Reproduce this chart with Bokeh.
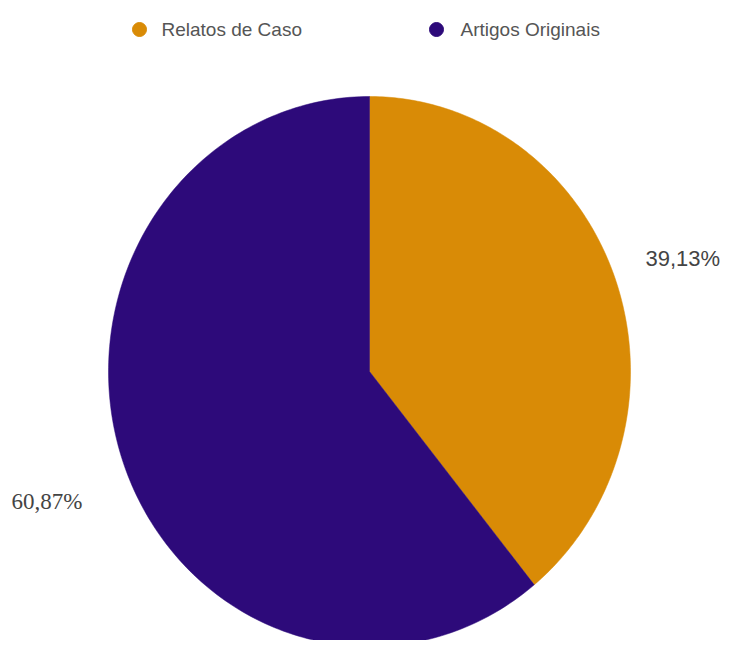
import numpy as np
from bokeh.plotting import figure
from bokeh.models import Range1d, ColumnDataSource
from bokeh.core.properties import value
from bokeh.embed import file_html
from bokeh.resources import INLINE

# ---- data ----
categories = ["Relatos de Caso", "Artigos Originais"]
shares = [39.13, 60.87]
labels = ["39,13%", "60,87%"]
colors = ["#D98B06", "#2D0A7A"]

W, H = 724, 640
p = figure(width=W, height=H, output_backend="svg", toolbar_location=None,
           x_range=Range1d(0, W), y_range=Range1d(H, 0),
           min_border=0, outline_line_color=None)
p.axis.visible = False
p.grid.visible = False
p.background_fill_color = "white"
p.border_fill_color = "white"

# pie geometry (slightly elliptical, like the reference)
cx, cy, rx, ry = 369, 371, 261, 275
fracs = np.array(shares) / sum(shares)
starts = np.concatenate([[0], np.cumsum(fracs)[:-1]]) * 2 * np.pi
ends = np.cumsum(fracs) * 2 * np.pi
xs, ys = [], []
for a0, a1 in zip(starts, ends):
    t = np.linspace(a0, a1, 200)
    xs.append(np.concatenate([[cx], cx + rx * np.sin(t), [cx]]).tolist())
    ys.append(np.concatenate([[cy], cy - ry * np.cos(t), [cy]]).tolist())
p.patches(xs, ys, fill_color=colors, line_color=colors, line_width=0.5)

# slice labels
p.text(x=[645], y=[258], text=[labels[0]], text_font=value("Liberation Sans"),
       text_font_size="22px", text_color="#444444", text_baseline="middle", text_align="left")
p.text(x=[11], y=[501], text=[labels[1]], text_font=value("Liberation Serif"),
       text_font_size="23px", text_color="#444444", text_baseline="middle", text_align="left")

# legend
leg = ColumnDataSource(dict(x=[139, 436], y=[29, 29], tx=[161, 460], c=colors, t=categories))
p.scatter("x", "y", source=leg, marker="circle", size=14, fill_color="c", line_color="c")
p.text("tx", "y", text="t", source=leg, text_font=value("Liberation Sans"),
       text_font_size="19px", text_color="#555555", text_baseline="middle", text_align="left")

open("out.html", "w").write(file_html(p, INLINE))
